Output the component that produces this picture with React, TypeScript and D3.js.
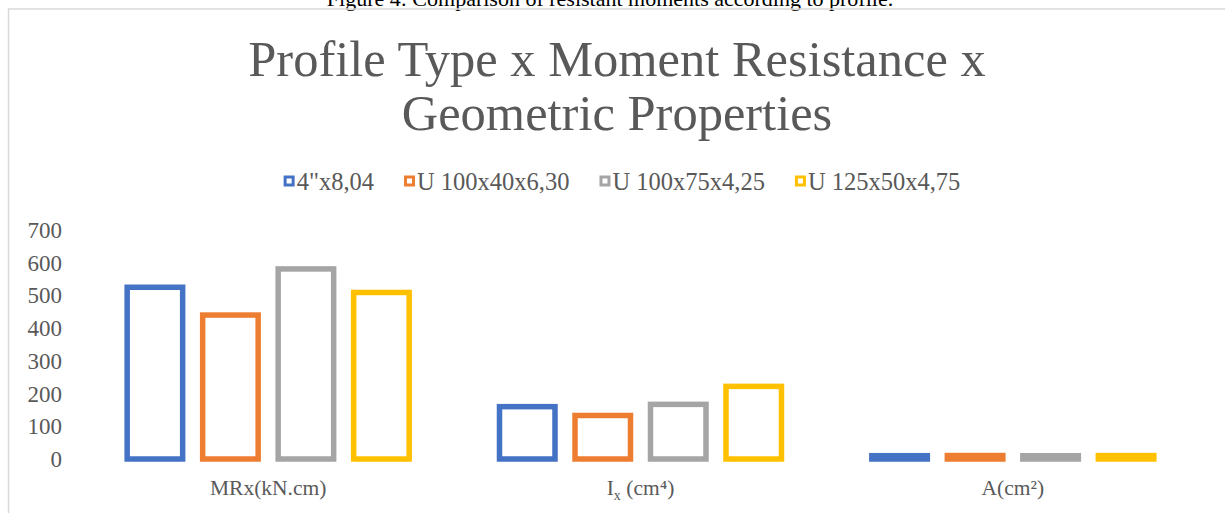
import React, { useEffect, useRef } from 'react';
import * as d3 from 'd3';

const categories = ['MRx(kN.cm)', 'Ix (cm⁴)', 'A(cm²)'];
const seriesNames = ['4"x8,04', 'U 100x40x6,30', 'U 100x75x4,25', 'U 125x50x4,75'];
const seriesColors = ['#4472C4', '#ED7D31', '#A5A5A5', '#FFC000'];
const profile4in = [525, 160, 10.1];
const profileU100x40 = [440, 133, 10.6];
const profileU100x75 = [581, 167, 9.9];
const profileU125x50 = [509, 222, 10.4];
const yTicks = [0, 100, 200, 300, 400, 500, 600, 700];

const seriesValues = [profile4in, profileU100x40, profileU100x75, profileU125x50];

const App = () => {
  const svgRef = useRef<SVGSVGElement | null>(null);

  useEffect(() => {
    const W = 1225;
    const H = 513;
    const font = "'Liberation Serif', 'Times New Roman', serif";
    const textColor = '#595959';

    const svg = d3.select(svgRef.current);
    svg.selectAll('*').remove();
    svg.attr('width', W).attr('height', H);

    // caption above the chart frame (cut off by the top edge, as in the source)
    svg.append('text')
      .attr('x', 610)
      .attr('y', 6)
      .attr('text-anchor', 'middle')
      .style('font-family', font)
      .style('font-size', '22px')
      .style('fill', '#000')
      .text('Figure 4: Comparison of resistant moments according to profile.');

    // frame
    svg.append('path')
      .attr('d', `M8.5,${H} L8.5,9 L${W},9`)
      .attr('fill', 'none')
      .attr('stroke', '#D9D9D9')
      .attr('stroke-width', 1.5);

    // title
    const title = svg.append('text')
      .attr('text-anchor', 'middle')
      .style('font-family', font)
      .style('font-size', '50.5px')
      .style('fill', textColor);
    title.append('tspan').attr('x', 617).attr('y', 76).text('Profile Type x Moment Resistance x');
    title.append('tspan').attr('x', 617).attr('y', 130).text('Geometric Properties');

    // scales
    const y = d3.scaleLinear().domain([0, 700]).range([459, 230]);
    const x0 = d3.scaleBand().domain(categories).range([82, 1199]).padding(0);
    const groupW = 302;
    const x1 = d3.scaleBand()
      .domain(seriesNames)
      .range([x0.bandwidth() / 2 - groupW / 2, x0.bandwidth() / 2 + groupW / 2])
      .paddingInner(0.265)
      .paddingOuter(0.1325);

    // y axis labels
    svg.append('g')
      .selectAll('text')
      .data(yTicks)
      .join('text')
      .attr('x', 62)
      .attr('y', d => y(d))
      .attr('dy', '0.35em')
      .attr('text-anchor', 'end')
      .style('font-family', font)
      .style('font-size', '23px')
      .style('fill', textColor)
      .text(d => d);

    // bars
    const sw = 5.5;
    seriesNames.forEach((name, si) => {
      svg.append('g')
        .selectAll('rect')
        .data(categories.map((c, ci) => ({ c, v: seriesValues[si][ci] })))
        .join('rect')
        .attr('x', d => (x0(d.c) as number) + (x1(name) as number))
        .attr('y', d => y(d.v))
        .attr('width', x1.bandwidth())
        .attr('height', d => y(0) - y(d.v))
        .attr('fill', '#fff')
        .attr('stroke', seriesColors[si])
        .attr('stroke-width', sw);
    });

    // category labels
    const catG = svg.append('g')
      .style('font-family', font)
      .style('font-size', '21.5px')
      .style('fill', textColor);
    categories.forEach((c, i) => {
      const cx = (x0(c) as number) + x0.bandwidth() / 2;
      const t = catG.append('text').attr('x', cx).attr('y', 495).attr('text-anchor', 'middle');
      if (i === 1) {
        t.append('tspan').text('I');
        t.append('tspan').attr('dy', 5).style('font-size', '14px').text('x');
        t.append('tspan').attr('dy', -5).text(' (cm⁴)');
      } else {
        t.text(c);
      }
    });

    // legend
    const legend = svg.append('g');
    const items: { g: any; w: number }[] = [];
    const box = 11;
    seriesNames.forEach((name, i) => {
      const g = legend.append('g');
      g.append('rect')
        .attr('x', 1.5)
        .attr('y', -box / 2 + 1.5)
        .attr('width', box - 3)
        .attr('height', box - 3)
        .attr('fill', '#fff')
        .attr('stroke', seriesColors[i])
        .attr('stroke-width', 3);
      const t = g.append('text')
        .attr('x', box + 2)
        .attr('dy', '0.35em')
        .style('font-family', font)
        .style('font-size', '24.5px')
        .style('fill', textColor)
        .text(name);
      const w = box + 2 + (t.node() as SVGTextElement).getComputedTextLength();
      items.push({ g, w });
    });
    const gap = 30;
    const total = d3.sum(items, d => d.w) + gap * (items.length - 1);
    let lx = 622 - total / 2;
    items.forEach(it => {
      it.g.attr('transform', `translate(${lx},181)`);
      lx += it.w + gap;
    });
  }, []);

  return (
    <svg
      ref={svgRef}
      style={{ position: 'absolute', left: 0, top: 0, background: '#fff', display: 'block' }}
    />
  );
};

export default App;
